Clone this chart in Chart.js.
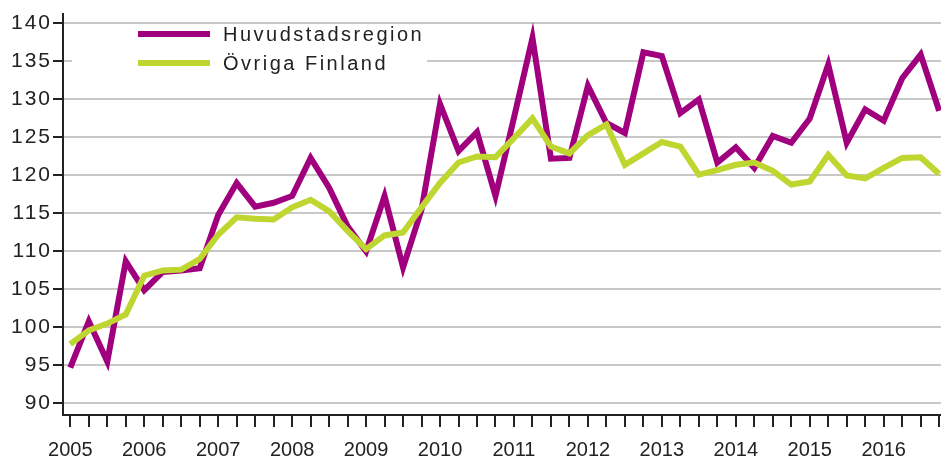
<!DOCTYPE html>
<html>
<head>
<meta charset="utf-8">
<script src="https://cdn.jsdelivr.net/npm/chart.js@4.4.1/dist/chart.umd.min.js"></script>
<style>
    html, body { margin: 0; padding: 0; background: #fff; }
    #wrap { width: 941px; height: 456px; }
</style>
</head>
<body>
<div id="wrap"><canvas id="chartPicture" width="941" height="456"></canvas></div>
<script>
const years = ["2005", "2006", "2007", "2008", "2009", "2010", "2011", "2012", "2013", "2014", "2015", "2016"];
const quarters = years.flatMap(year => [year + "Q1", year + "Q2", year + "Q3", year + "Q4"]);
const seriesNames = ["Huvudstadsregion", "Övriga Finland"];
const seriesColors = ["#a0007e", "#bed62f"];

const capitalRegion = [
    94.7, 100.8, 95.5, 108.7,
    104.9, 107.3, 107.5, 107.8,
    114.8, 119.0, 115.9, 116.4,
    117.3, 122.3, 118.4, 113.3,
    110.0, 117.3, 107.9, 115.5,
    129.4, 123.2, 125.7, 117.3,
    127.6, 138.1, 122.2, 122.3,
    131.8, 126.9, 125.6, 136.2,
    135.7, 128.2, 130.0, 121.7,
    123.7, 121.0, 125.2, 124.3,
    127.5, 134.6, 124.3, 128.7,
    127.2, 132.8, 135.9, 128.5
];
const restOfFinland = [
    97.8, 99.6, 100.5, 101.7,
    106.8, 107.5, 107.6, 109.0,
    112.2, 114.5, 114.3, 114.2,
    115.8, 116.8, 115.3, 112.7,
    110.3, 112.1, 112.5, 115.8,
    119.0, 121.7, 122.5, 122.4,
    124.9, 127.5, 123.8, 122.9,
    125.3, 126.7, 121.4, 122.9,
    124.4, 123.8, 120.1, 120.7,
    121.4, 121.7, 120.6, 118.8,
    119.2, 122.7, 120.0, 119.6,
    121.0, 122.3, 122.4, 120.2
];
const yTicks = [90, 95, 100, 105, 110, 115, 120, 125, 130, 135, 140];

const fontFamily = "Arial, 'Liberation Sans', sans-serif";
const context = document.getElementById("chartPicture");

// white box legend inside the plot, drawn over the grid lines
const boxLegend =
{
    id: "boxLegend",
    afterLayout(chart)
    {
        const yScale = chart.scales.y;
        if(!yScale._spaced)
        {
            const drawLabels = yScale.drawLabels.bind(yScale);
            yScale.drawLabels = area =>
            {
                chart.ctx.save();
                chart.ctx.letterSpacing = "2px";
                drawLabels(area);
                chart.ctx.restore();
            };
            yScale._spaced = true;
        }
    },
    beforeDatasetsDraw(chart)
    {
        const ctx = chart.ctx;
        ctx.save();
        ctx.fillStyle = "#ffffff";
        ctx.fillRect(72, 25, 355, 70);
        seriesNames.forEach((name, i) =>
        {
            const y = 34 + i * 29;
            ctx.strokeStyle = seriesColors[i];
            ctx.lineWidth = 6;
            ctx.beginPath();
            ctx.moveTo(138, y);
            ctx.lineTo(210, y);
            ctx.stroke();
            ctx.fillStyle = "#222222";
            ctx.font = "20px " + fontFamily;
            ctx.letterSpacing = "2.5px";
            ctx.textBaseline = "middle";
            ctx.fillText(name, 223, y + 1);
        });
        ctx.restore();
    }
};

const configObject =
{
    type: "line",
    data:
    {
        datasets:
        [
            {
                label: seriesNames[0],
                data: capitalRegion.map((v, i) => ({x: i, y: v})),
                borderColor: seriesColors[0],
                borderWidth: 6,
                pointRadius: 0,
                tension: 0,
                order: 1,
            },
            {
                label: seriesNames[1],
                data: restOfFinland.map((v, i) => ({x: i, y: v})),
                borderColor: seriesColors[1],
                borderWidth: 6,
                pointRadius: 0,
                tension: 0,
                order: 0,
            }
        ],
    },
    options:
    {
        responsive: false,
        animation: false,
        layout: { padding: { top: 12, right: 0, left: 0, bottom: 0 } },
        plugins:
        {
            legend: { display: false },
            tooltip: { enabled: false },
        },
        scales:
        {
            x:
            {
                type: "linear",
                min: -0.395,
                max: 47.1,
                afterBuildTicks: scale => { scale.ticks = quarters.map((q, i) => ({value: i})); },
                afterFit: scale =>
                {
                    scale.height = 41;
                    scale.paddingLeft = 0;
                    scale.paddingRight = 0;
                },
                border: { color: "#222222", width: 2 },
                grid:
                {
                    drawOnChartArea: false,
                    tickLength: 12,
                    tickColor: "#222222",
                    lineWidth: 2,
                },
                ticks:
                {
                    autoSkip: false,
                    maxRotation: 0,
                    padding: 11,
                    color: "#222222",
                    font: { family: fontFamily, size: 20 },
                    callback: value => (value % 4 === 0 ? years[value / 4] : ""),
                }
            },
            y:
            {
                min: 88.47,
                max: 141.3,
                afterBuildTicks: scale => { scale.ticks = yTicks.map(v => ({value: v})); },
                afterFit: scale => { scale.width = 63; },
                border: { color: "#222222", width: 2 },
                grid:
                {
                    color: "#c8c8c8",
                    lineWidth: 2,
                    tickLength: 10,
                    tickColor: "#222222",
                },
                ticks:
                {
                    padding: 1,
                    color: "#222222",
                    font: { family: fontFamily, size: 21 },
                }
            }
        }
    },
    plugins: [boxLegend]
};

const myChart = new Chart(context, configObject);
</script>
</body>
</html>
